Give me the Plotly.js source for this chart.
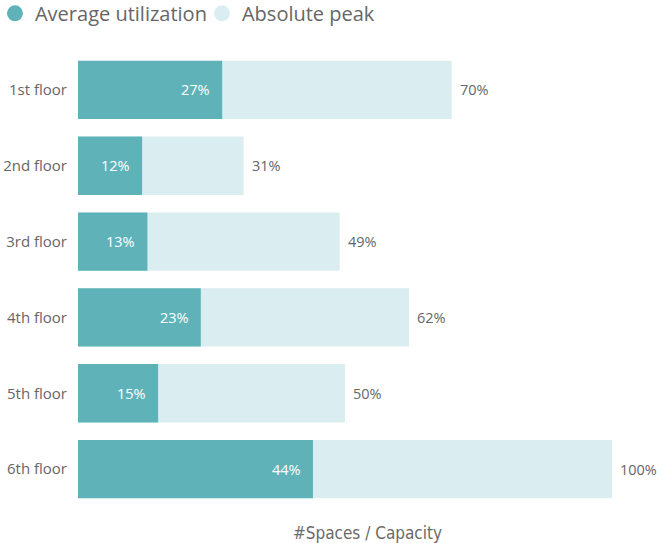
<!DOCTYPE html>
<html><head><meta charset="utf-8">
<script src="https://cdn.plot.ly/plotly-3.0.1.min.js"></script>
<style>html,body{margin:0;padding:0;background:#fff;}#chart{width:657px;height:543px;}</style>
</head><body><div id="chart"></div>
<script>
const floors = ["1st floor","2nd floor","3rd floor","4th floor","5th floor","6th floor"];
const avgUtil = [0.27,0.12,0.13,0.23,0.15,0.44];
const absPeak = [0.70,0.31,0.49,0.62,0.50,1.00];
const seriesNames = ["Average utilization","Absolute peak"];
const colors = ["#5fb3b8","#daedf0"];
const fontFam = "'Open Sans', 'Noto Sans', sans-serif";
const fmt = v => Math.round(v*100) + "%";

const traces = [
  {type:"bar", orientation:"h", y:floors, x:absPeak, marker:{color:colors[1]}, showlegend:false, hoverinfo:"none"},
  {type:"bar", orientation:"h", y:floors, x:avgUtil, marker:{color:colors[0]}, showlegend:false, hoverinfo:"none"},
  {type:"scatter", mode:"markers", x:[null], y:[null], name:seriesNames[0], marker:{color:colors[0], size:16, symbol:"circle"}},
  {type:"scatter", mode:"markers", x:[null], y:[null], name:seriesNames[1], marker:{color:colors[1], size:16, symbol:"circle"}}
];

const annotations = [];
floors.forEach((f,i)=>{
  annotations.push({x:avgUtil[i], y:f, text:fmt(avgUtil[i]), xanchor:"right", xshift:-10, showarrow:false, font:{family:fontFam, size:14.5, color:"#ffffff"}});
  annotations.push({x:absPeak[i], y:f, text:fmt(absPeak[i]), xanchor:"left", xshift:6, showarrow:false, font:{family:fontFam, size:14.5, color:"#666666"}});
});

const layout = {
  width:657, height:543,
  margin:{l:78, r:0, t:52, b:36, pad:0, autoexpand:false},
  paper_bgcolor:"#fff", plot_bgcolor:"#fff",
  barmode:"overlay", bargap:0.23,
  font:{family:fontFam, color:"#666666"},
  showlegend:true,
  legend:{orientation:"h", x:-0.1434, xanchor:"left", y:1.085, yanchor:"middle", font:{size:20, color:"#666666", family:fontFam}, itemsizing:"trace", itemwidth:30, tracegroupgap:0, traceorder:"normal", entrywidthmode:"pixels", entrywidth:162},
  xaxis:{range:[0,1.0843], showgrid:false, zeroline:false, showticklabels:false, ticks:"", showline:false, fixedrange:true,
    title:{text:"#Spaces / Capacity", font:{family:"'DejaVu Sans Condensed', sans-serif", size:17, color:"#6a6a6a"}, standoff:27}},
  yaxis:{autorange:"reversed", showgrid:false, zeroline:false, showline:false, ticks:"outside", ticklen:7, tickcolor:"rgba(0,0,0,0)", tickfont:{family:fontFam, size:15, color:"#666666"}, fixedrange:true},
  annotations:annotations
};
Plotly.newPlot("chart", traces, layout, {displayModeBar:false, staticPlot:true});
</script></body></html>
